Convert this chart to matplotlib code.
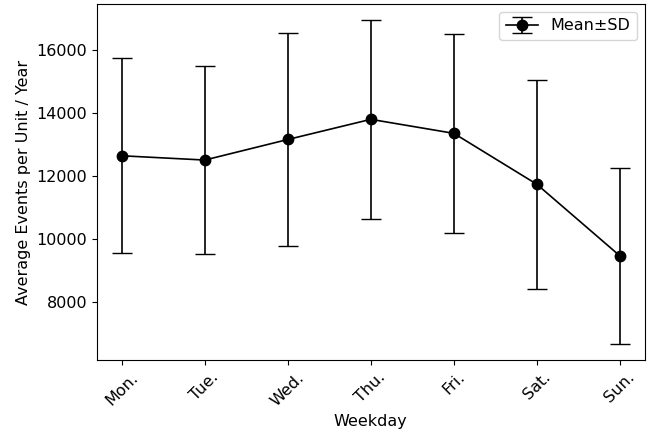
import matplotlib
matplotlib.use('Agg')
import matplotlib.pyplot as plt
import numpy as np

# Weekday means and standard deviations
weekdays = ['Mon.', 'Tue.', 'Wed.', 'Thu.', 'Fri.', 'Sat.', 'Sun.']
mean_events = [12643, 12507, 13160, 13800, 13355, 11737, 9464]
sd_events = [3090, 2985, 3370, 3150, 3150, 3310, 2790]

plt.rcParams['font.size'] = 11.5

fig, ax = plt.subplots(figsize=(6.5, 4.4), dpi=100)
x = np.arange(len(weekdays))
ax.errorbar(x, mean_events, yerr=sd_events, fmt='-o', color='black',
            capsize=7, elinewidth=1.2, linewidth=1.2, markersize=7.5,
            label='Mean±SD')
ax.set_xticks(x)
ax.set_xticklabels(weekdays, rotation=45)
ax.set_xlabel('Weekday')
ax.set_ylabel('Average Events per Unit / Year')
ax.legend(loc='upper right')

fig.subplots_adjust(left=0.149, right=0.992, top=0.991, bottom=0.182)
plt.savefig('out.png', dpi=100)
